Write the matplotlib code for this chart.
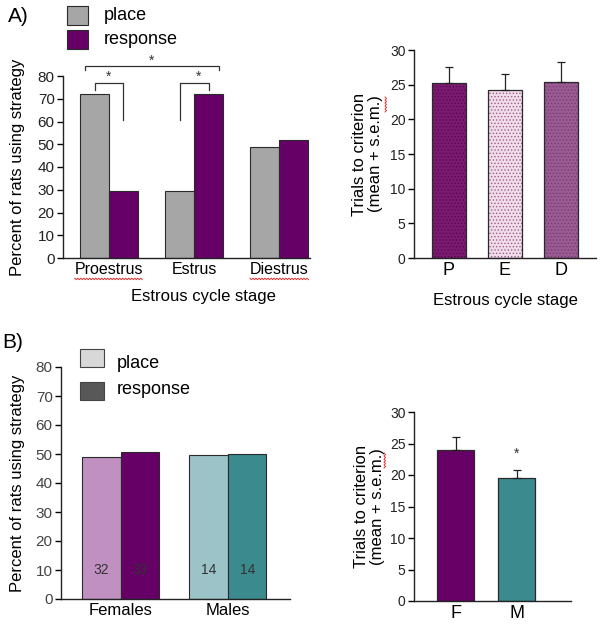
import matplotlib.pyplot as plt
import numpy as np

plt.rcParams["font.family"] = ["Liberation Sans", "DejaVu Sans"]
plt.rcParams["hatch.linewidth"] = 0.6

# Panel A left: strategy by estrous stage
stages = ["Proestrus", "Estrus", "Diestrus"]
place_a = [72, 29.5, 49]
response_a = [29.5, 72, 52]

# Panel A right: trials to criterion by stage
stage_short = ["P", "E", "D"]
trials_a = [25.3, 24.3, 25.4]
sem_a = [2.3, 2.2, 2.9]

# Panel B left: strategy by sex
sexes = ["Females", "Males"]
place_b = [49, 49.8]
response_b = [50.8, 50.1]
n_place_b = [32, 14]
n_response_b = [33, 14]

# Panel B right: trials to criterion by sex
sex_short = ["F", "M"]
trials_b = [24.0, 19.6]
sem_b = [2.1, 1.2]

W, H = 603, 625
fig = plt.figure(figsize=(W / 100, H / 100), dpi=100)


def px_axes(left, right, bottom, top):
    return fig.add_axes([left / W, 1 - bottom / H, (right - left) / W, (bottom - top) / H])


def style(ax, tick_color="#222222"):
    for s in ["top", "right"]:
        ax.spines[s].set_visible(False)
    for s in ["left", "bottom"]:
        ax.spines[s].set_color("#222222")
        ax.spines[s].set_linewidth(1.0)
    ax.tick_params(axis="y", direction="out", length=4, width=1, labelsize=10,
                   labelcolor=tick_color, pad=2)
    ax.tick_params(axis="x", length=0, labelsize=11.5, pad=3)


def squiggle(x0, x1, y, vertical=False):
    # red spell-check underline, pixel coords
    t = np.arange(0, abs(x1 - x0) + 0.1, 1.5)
    z = np.where(np.arange(len(t)) % 2 == 0, 0.0, 1.5)
    if vertical:
        xs, ys = y + z, x0 + t
    else:
        xs, ys = x0 + t, y + z
    fig.add_artist(plt.Line2D(xs / W, 1 - ys / H, transform=fig.transFigure,
                              color="#e03030", lw=0.7))


edge = "#2a2a2a"

# ---------------- A left ----------------
ax1 = px_axes(63, 310, 258, 76)
x = np.arange(len(stages))
w = 0.34
ax1.bar(x - w / 2, place_a, w, color="#a6a6a6", edgecolor=edge, linewidth=0.8)
ax1.bar(x + w / 2, response_a, w, color="#660066", edgecolor=edge, linewidth=0.8)
ax1.set_xlim(-0.54, 2.36)
ax1.set_ylim(0, 80)
ax1.set_yticks(range(0, 81, 10))
ax1.set_xticks(x)
ax1.set_xticklabels(stages)
style(ax1)
ax1.tick_params(axis="y", labelsize=11)
ax1.set_ylabel("Percent of rats using strategy", fontsize=12)
ax1.yaxis.set_label_coords(-0.155, 0.5)
ax1.set_xlabel("Estrous cycle stage", fontsize=12)
ax1.xaxis.set_label_coords(0.57, -0.17)

bk = dict(color="#333333", lw=0.9, clip_on=False)
# big bracket
ax1.plot([-0.28, -0.28, 1.29, 1.29], [82.6, 84.4, 84.4, 82.6], **bk)
ax1.text(0.505, 86.5, "*", ha="center", va="center", fontsize=10, color="#333333")
# small brackets
ax1.plot([-w / 2, -w / 2, w / 2, w / 2], [74, 77, 77, 60.7], **bk)
ax1.text(0, 79.5, "*", ha="center", va="center", fontsize=10, color="#333333")
ax1.plot([1 - w / 2, 1 - w / 2, 1 + w / 2, 1 + w / 2], [60.7, 77, 77, 74], **bk)
ax1.text(1.05, 79.5, "*", ha="center", va="center", fontsize=10, color="#333333")

# legend A
fig.patches.append(plt.Rectangle((67 / W, 1 - 25 / H), 21 / W, 19 / H, transform=fig.transFigure,
                                 facecolor="#a6a6a6", edgecolor=edge, linewidth=0.8))
fig.patches.append(plt.Rectangle((67 / W, 1 - 49 / H), 21 / W, 19 / H, transform=fig.transFigure,
                                 facecolor="#660066", edgecolor=edge, linewidth=0.8))
fig.text(104 / W, 1 - 15 / H, "place", fontsize=13, va="center")
fig.text(104 / W, 1 - 39 / H, "response", fontsize=13, va="center")
fig.text(8 / W, 1 - 17 / H, "A)", fontsize=15, va="center")

# ---------------- A right ----------------
ax2 = px_axes(414, 596, 258, 50)
x2 = np.arange(len(stage_short))
cols_a = ["#7a1a70", "#f0dcea", "#9a5a92"]
dots_a = ["#5a0a50", "#a0608c", "#7a3a72"]
for xi, v, c, d in zip(x2, trials_a, cols_a, dots_a):
    ax2.bar(xi, v, 0.61, color=c, edgecolor=d, linewidth=0, hatch=".....")
ax2.bar(x2, trials_a, 0.61, color="none", edgecolor=edge, linewidth=0.9)
ax2.errorbar(x2, trials_a, yerr=[np.zeros(3), sem_a], fmt="none", ecolor="#222222",
             elinewidth=0.9, capsize=3, capthick=0.9)
ax2.set_xlim(-0.625, 2.625)
ax2.set_ylim(0, 30)
ax2.set_yticks(range(0, 31, 5))
ax2.set_xticks(x2)
ax2.set_xticklabels(stage_short)
style(ax2)
ax2.tick_params(axis="x", labelsize=13)
ax2.set_ylabel("Trials to criterion\n(mean + s.e.m.)", fontsize=12, linespacing=1.1)
ax2.yaxis.set_label_coords(-0.17, 0.5)
ax2.set_xlabel("Estrous cycle stage", fontsize=12)
ax2.xaxis.set_label_coords(0.5, -0.17)

# ---------------- B left ----------------
ax3 = px_axes(61, 290, 599, 367)
x3 = np.arange(len(sexes))
w3 = 0.36
ax3.bar(x3 - w3 / 2, place_b, w3, color=["#c090c0", "#9cc4c8"], edgecolor=edge, linewidth=0.8)
ax3.bar(x3 + w3 / 2, response_b, w3, color=["#660066", "#3a8a8e"], edgecolor=edge, linewidth=0.8)
for i in range(len(sexes)):
    ax3.text(x3[i] - w3 / 2, 10, str(n_place_b[i]), ha="center", va="center", fontsize=10,
             color="#333333")
    ax3.text(x3[i] + w3 / 2, 10, str(n_response_b[i]), ha="center", va="center", fontsize=10,
             color="#333333")
ax3.set_xlim(-0.56, 1.58)
ax3.set_ylim(0, 80)
ax3.set_yticks(range(0, 81, 10))
ax3.set_xticks(x3)
ax3.set_xticklabels(sexes)
style(ax3, tick_color="#444444")
ax3.tick_params(axis="y", labelsize=11)
ax3.tick_params(axis="x", labelsize=12)
ax3.set_ylabel("Percent of rats using strategy", fontsize=12)
ax3.yaxis.set_label_coords(-0.157, 0.5)

fig.patches.append(plt.Rectangle((80 / W, 1 - 367 / H), 24 / W, 18 / H, transform=fig.transFigure,
                                 facecolor="#d8d8d8", edgecolor="#444444", linewidth=0.8))
fig.patches.append(plt.Rectangle((80 / W, 1 - 400 / H), 24 / W, 18 / H, transform=fig.transFigure,
                                 facecolor="#585858", edgecolor="#444444", linewidth=0.8))
fig.text(117 / W, 1 - 363 / H, "place", fontsize=13, va="center")
fig.text(117 / W, 1 - 389 / H, "response", fontsize=13, va="center")
fig.text(2 / W, 1 - 342 / H, "B)", fontsize=15, va="center")

# ---------------- B right ----------------
ax4 = px_axes(414, 571, 601, 412)
x4 = np.arange(len(sex_short))
ax4.bar(x4, trials_b, 0.61, color=["#660066", "#3a8a8e"], edgecolor=edge, linewidth=0.9)
ax4.errorbar(x4, trials_b, yerr=[np.zeros(2), sem_b], fmt="none", ecolor="#222222",
             elinewidth=0.9, capsize=3, capthick=0.9)
ax4.text(1, 23.3, "*", ha="center", va="center", fontsize=10, color="#333333")
ax4.set_xlim(-0.68, 1.89)
ax4.set_ylim(0, 30)
ax4.set_yticks(range(0, 31, 5))
ax4.set_xticks(x4)
ax4.set_xticklabels(sex_short)
style(ax4)
ax4.tick_params(axis="x", labelsize=13)
ax4.set_ylabel("Trials to criterion\n(mean + s.e.m.)", fontsize=12, linespacing=1.1)
ax4.yaxis.set_label_coords(-0.185, 0.5)

# spell-check squiggles under tick labels and s.e.m.
fig.canvas.draw()
renderer = fig.canvas.get_renderer()
for lab in ax1.get_xticklabels():
    if lab.get_text() in ("Proestrus", "Diestrus"):
        bb = lab.get_window_extent(renderer)
        squiggle(bb.x0, bb.x1, H - bb.y0 + 1)
squiggle(97, 112, 385, vertical=True)
squiggle(453, 468, 384, vertical=True)

fig.savefig("out.png", dpi=100)
